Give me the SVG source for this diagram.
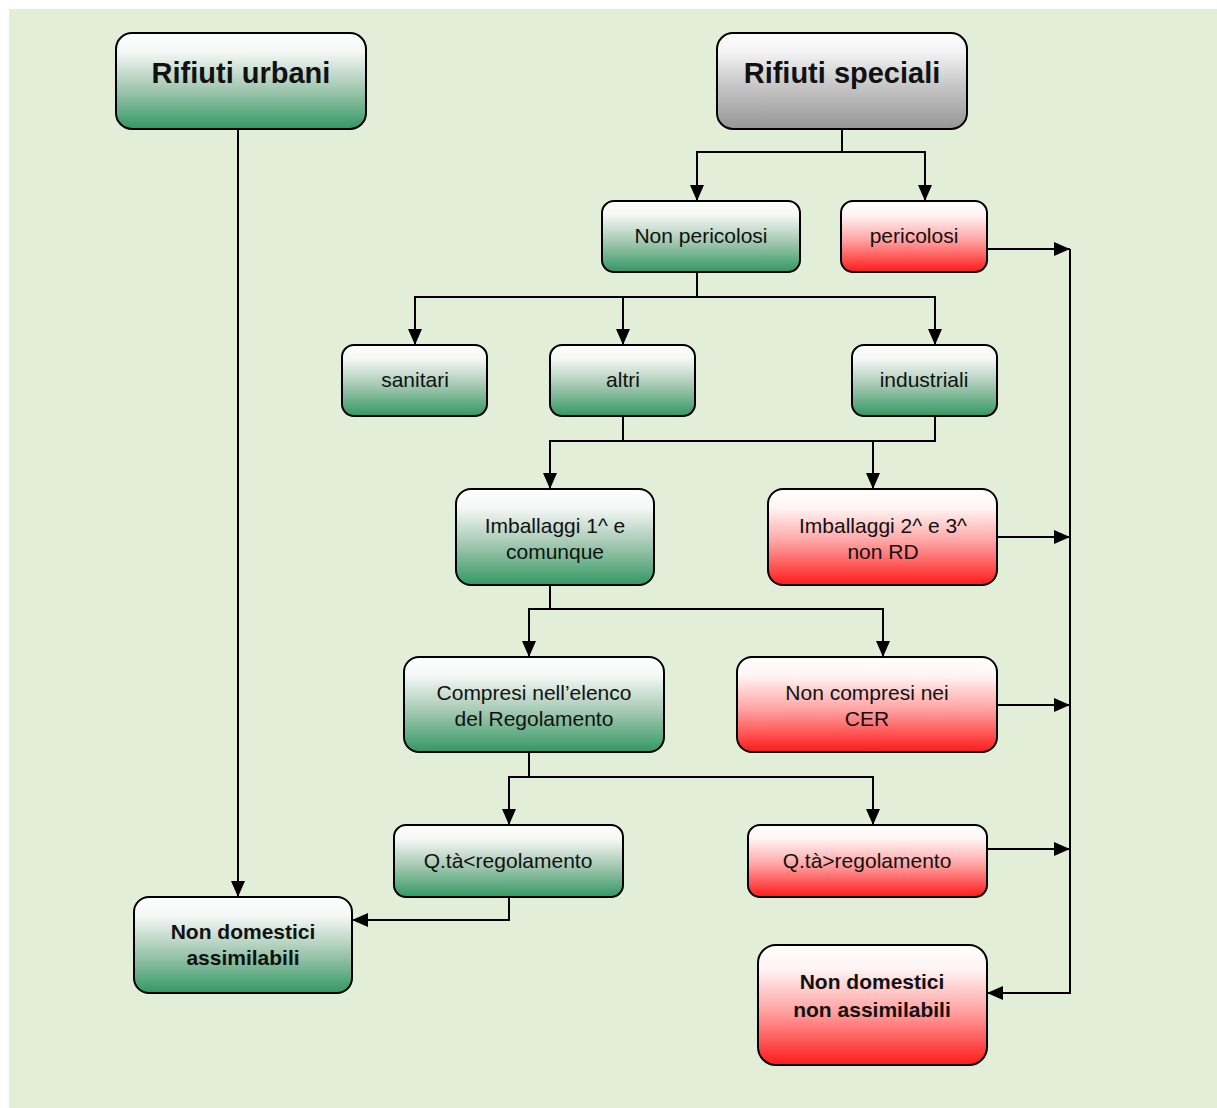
<svg xmlns="http://www.w3.org/2000/svg" width="1217" height="1108" viewBox="0 0 1217 1108">
<defs>
<linearGradient id="gG" x1="0" y1="0" x2="0" y2="1">
<stop offset="0" stop-color="#ffffff"/>
<stop offset="0.2" stop-color="#f4f7f5"/>
<stop offset="0.55" stop-color="#a9cbb6"/>
<stop offset="1" stop-color="#329863"/>
</linearGradient>
<linearGradient id="gR" x1="0" y1="0" x2="0" y2="1">
<stop offset="0" stop-color="#ffffff"/>
<stop offset="0.2" stop-color="#fff4f4"/>
<stop offset="0.55" stop-color="#ffa3a3"/>
<stop offset="1" stop-color="#ff1a1a"/>
</linearGradient>
<linearGradient id="gY" x1="0" y1="0" x2="0" y2="1">
<stop offset="0" stop-color="#ffffff"/>
<stop offset="0.2" stop-color="#f3f3f3"/>
<stop offset="0.55" stop-color="#c6c6c6"/>
<stop offset="1" stop-color="#969696"/>
</linearGradient>
<marker id="ar" viewBox="0 0 16 14" refX="16" refY="7" markerWidth="16" markerHeight="14" markerUnits="userSpaceOnUse" orient="auto">
<path d="M0,0 L16,7 L0,14 Z" fill="#000"/>
</marker>
<style>
.bx{stroke:#000;stroke-width:2}
.g{fill:url(#gG)}
.r{fill:url(#gR)}
.y{fill:url(#gY)}
text{font-family:"Liberation Sans",Arial,sans-serif;fill:#111;text-anchor:middle}
.t{font-size:21px}
.b{font-size:21px;font-weight:bold}
.h{font-size:29px;font-weight:bold}
.c{fill:none;stroke:#000;stroke-width:2}
</style>
</defs>
<rect x="9" y="9" width="1208" height="1099" fill="#e2eed8"/>
<g id="connectors">
<path class="c" d="M238,129 V897" marker-end="url(#ar)"/>
<path class="c" d="M842,129 V152 H697 V201" marker-end="url(#ar)"/>
<path class="c" d="M842,152 H925 V201" marker-end="url(#ar)"/>
<path class="c" d="M697,272 V297 H415 V345" marker-end="url(#ar)"/>
<path class="c" d="M623,297 V345" marker-end="url(#ar)"/>
<path class="c" d="M697,297 H935 V345" marker-end="url(#ar)"/>
<path class="c" d="M623,416 V441 H550 V489" marker-end="url(#ar)"/>
<path class="c" d="M935,416 V441 H623"/>
<path class="c" d="M873,441 V489" marker-end="url(#ar)"/>
<path class="c" d="M550,585 V609 H529 V657" marker-end="url(#ar)"/>
<path class="c" d="M550,609 H883 V657" marker-end="url(#ar)"/>
<path class="c" d="M529,752 V777 H509 V825" marker-end="url(#ar)"/>
<path class="c" d="M529,777 H873 V825" marker-end="url(#ar)"/>
<path class="c" d="M509,897 V920 H352" marker-end="url(#ar)"/>
<path class="c" d="M987,249 H1070" marker-end="url(#ar)"/>
<path class="c" d="M997,537 H1070" marker-end="url(#ar)"/>
<path class="c" d="M997,705 H1070" marker-end="url(#ar)"/>
<path class="c" d="M987,849 H1070" marker-end="url(#ar)"/>
<path class="c" d="M1070,249 V993 H987" marker-end="url(#ar)"/>
</g>
<g id="n-urbani"><rect class="bx g" x="116" y="33" width="250" height="96" rx="16"/><text class="h" x="241" y="83">Rifiuti urbani</text></g>
<g id="n-speciali"><rect class="bx y" x="717" y="33" width="250" height="96" rx="16"/><text class="h" x="842" y="83">Rifiuti speciali</text></g>
<g id="n-nonpericolosi"><rect class="bx g" x="602" y="201" width="198" height="71" rx="12"/><text class="t" x="701" y="243">Non pericolosi</text></g>
<g id="n-pericolosi"><rect class="bx r" x="841" y="201" width="146" height="71" rx="12"/><text class="t" x="914" y="243">pericolosi</text></g>
<g id="n-sanitari"><rect class="bx g" x="342" y="345" width="145" height="71" rx="12"/><text class="t" x="415" y="387">sanitari</text></g>
<g id="n-altri"><rect class="bx g" x="550" y="345" width="145" height="71" rx="12"/><text class="t" x="623" y="387">altri</text></g>
<g id="n-industriali"><rect class="bx g" x="852" y="345" width="145" height="71" rx="12"/><text class="t" x="924" y="387">industriali</text></g>
<g id="n-imb1"><rect class="bx g" x="456" y="489" width="198" height="96" rx="15"/><text class="t" x="555" y="533">Imballaggi 1^ e</text><text class="t" x="555" y="559">comunque</text></g>
<g id="n-imb2"><rect class="bx r" x="768" y="489" width="229" height="96" rx="15"/><text class="t" x="883" y="533">Imballaggi 2^ e 3^</text><text class="t" x="883" y="559">non RD</text></g>
<g id="n-compresi"><rect class="bx g" x="404" y="657" width="260" height="95" rx="15"/><text class="t" x="534" y="700">Compresi nell’elenco</text><text class="t" x="534" y="726">del Regolamento</text></g>
<g id="n-noncompresi"><rect class="bx r" x="737" y="657" width="260" height="95" rx="15"/><text class="t" x="867" y="700">Non compresi nei</text><text class="t" x="867" y="726">CER</text></g>
<g id="n-qmin"><rect class="bx g" x="394" y="825" width="229" height="72" rx="12"/><text class="t" x="508" y="868">Q.tà&lt;regolamento</text></g>
<g id="n-qmax"><rect class="bx r" x="748" y="825" width="239" height="72" rx="12"/><text class="t" x="867" y="868">Q.tà&gt;regolamento</text></g>
<g id="n-assimilabili"><rect class="bx g" x="134" y="897" width="218" height="96" rx="15"/><text class="b" x="243" y="939">Non domestici</text><text class="b" x="243" y="965">assimilabili</text></g>
<g id="n-nonassimilabili"><rect class="bx r" x="758" y="945" width="229" height="120" rx="18"/><text class="b" x="872" y="989">Non domestici</text><text class="b" x="872" y="1017">non assimilabili</text></g>
</svg>
